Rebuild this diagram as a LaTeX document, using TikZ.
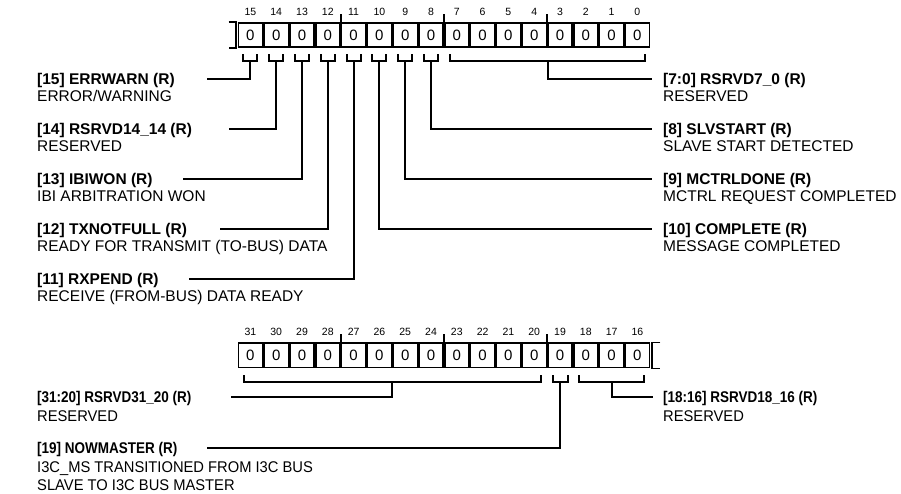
\documentclass[tikz,border=0pt]{standalone}
\usepackage{fontspec}
\setmainfont{Liberation Sans}
\newfontfamily\narrowsans[FakeStretch=0.87]{Liberation Sans}
\newfontfamily\slimsans[FakeStretch=0.95]{Liberation Sans}
\usetikzlibrary{positioning}

\tikzset{
  cellbox/.style={draw, line width=1.6pt, minimum width=24.2pt, minimum height=24.4pt, inner sep=0pt, font=\fontsize{15}{15}\selectfont},
  bitnum/.style={inner sep=0pt, font=\fontsize{10.5}{11}\selectfont},
  brace/.style={line width=2pt},
  lead/.style={line width=2pt},
  fieldname/.style={anchor=west, inner sep=0pt, text height=11pt, text depth=0pt, font=\fontsize{15.5}{17}\selectfont\bfseries},
  fielddesc/.style={anchor=base west, inner sep=0pt, font=\fontsize{15.5}{17}\selectfont},
  narrowname/.style={fieldname, font=\fontsize{15.5}{17}\selectfont\narrowsans\bfseries},
  narrowdesc/.style={fielddesc, font=\fontsize{15.5}{17}\selectfont\slimsans},
}

\begin{document}
\begin{tikzpicture}[x=1pt,y=-1pt]
\fill[white] (0,0) rectangle (901,494);
\useasboundingbox (0,0) rectangle (901,494);

% Register bits 15..0
\foreach \b [count=\i from 0] in {15,14,...,0} {
    \node[cellbox] (top\b) at (250.4+25.8*\i,35) {0};
    \node[bitnum] (ntop\b) at (250.4+25.8*\i,12) {\b};
}
\foreach \b in {12,8,4}
    \draw[line width=1.6pt] (top\b.north east) -- ++(0,-8);
% continued from bit 16
\draw[line width=1.6pt] ([xshift=-9pt]top15.north west) -- ([xshift=-1.8pt]top15.north west)
    -- ([xshift=-1.8pt]top15.south west) -- ([xshift=-9pt]top15.south west);

% Register bits 31..16
\foreach \b [count=\i from 0] in {31,30,...,16} {
    \node[cellbox] (bot\b) at (250.4+25.8*\i,355.3) {0};
    \node[bitnum] (nbot\b) at (250.4+25.8*\i,332) {\b};
}
\foreach \b in {28,24,20}
    \draw[line width=1.6pt] (bot\b.north east) -- ++(0,-8);
% continues to bit 15
\draw[line width=1.6pt] ([xshift=10pt]bot16.north east) -- ([xshift=1.8pt]bot16.north east)
    -- ([xshift=1.8pt]bot16.south east) -- ([xshift=10pt]bot16.south east);

% Brackets under single bits
\foreach \b [count=\i from 0] in {15,14,...,8} {
    \pgfmathsetmacro\cx{250.4+25.8*\i}
    \draw[brace] (\cx-7,54.5) -- (\cx-7,61.5) -- (\cx+7,61.5) -- (\cx+7,54.5);
    \coordinate (s\b) at (\cx,61.5);
}
\draw[brace] (450,54.5) -- (450,61.5) -- (645,61.5) -- (645,54.5);
\coordinate (s7) at (547.5,61.5);

\draw[brace] (244,375) -- (244,381.7) -- (540.6,381.7) -- (540.6,375);
\coordinate (s31) at (392.3,381.7);
\draw[brace] (553,375) -- (553,381.7) -- (567.6,381.7) -- (567.6,375);
\coordinate (s19) at (560.3,381.7);
\draw[brace] (579,375) -- (579,381.7) -- (644,381.7) -- (644,375);
\coordinate (s18) at (611.5,381.7);

% Leader ends
\coordinate (e15) at (207,79);
\coordinate (e14) at (229,129);
\coordinate (e13) at (183,179);
\coordinate (e12) at (220,229);
\coordinate (e11) at (189,279);
\coordinate (e10) at (652,229);
\coordinate (e9)  at (652,179);
\coordinate (e8)  at (652,129);
\coordinate (e7)  at (652,79);
\coordinate (e31) at (231,397);
\coordinate (e19) at (207,448);
\coordinate (e18) at (653,397);

% Field names and descriptions, left side
\node[fieldname] (t15) at (37,79) {[15] ERRWARN (R)};
\node[fielddesc] (d15) at ([yshift=-17pt]t15.base west) {ERROR/WARNING};
\node[fieldname] (t14) at (37,129) {[14] RSRVD14\_14 (R)};
\node[fielddesc] (d14) at ([yshift=-17pt]t14.base west) {RESERVED};
\node[fieldname] (t13) at (37,179) {[13] IBIWON (R)};
\node[fielddesc] (d13) at ([yshift=-17pt]t13.base west) {IBI ARBITRATION WON};
\node[fieldname] (t12) at (37,229) {[12] TXNOTFULL (R)};
\node[fielddesc] (d12) at ([yshift=-17pt]t12.base west) {READY FOR TRANSMIT (TO-BUS) DATA};
\node[fieldname] (t11) at (37,279) {[11] RXPEND (R)};
\node[fielddesc] (d11) at ([yshift=-17pt]t11.base west) {RECEIVE (FROM-BUS) DATA READY};

% right side
\node[fieldname] (t7) at (663,79) {[7:0] RSRVD7\_0 (R)};
\node[fielddesc] (d7) at ([yshift=-17pt]t7.base west) {RESERVED};
\node[fieldname] (t8) at (663,129) {[8] SLVSTART (R)};
\node[fielddesc] (d8) at ([yshift=-17pt]t8.base west) {SLAVE START DETECTED};
\node[fieldname] (t9) at (663,179) {[9] MCTRLDONE (R)};
\node[fielddesc] (d9) at ([yshift=-17pt]t9.base west) {MCTRL REQUEST COMPLETED};
\node[fieldname] (t10) at (663,229) {[10] COMPLETE (R)};
\node[fielddesc] (d10) at ([yshift=-17pt]t10.base west) {MESSAGE COMPLETED};

% upper half fields
\node[narrowname] (t31) at (37,397) {[31:20] RSRVD31\_20 (R)};
\node[narrowdesc] (d31) at ([yshift=-18.5pt]t31.base west) {RESERVED};
\node[narrowname] (t19) at (37,448) {[19] NOWMASTER (R)};
\node[narrowdesc] (d19a) at ([yshift=-18.5pt]t19.base west) {I3C\_MS TRANSITIONED FROM I3C BUS};
\node[narrowdesc] (d19b) at ([yshift=-37pt]t19.base west) {SLAVE TO I3C BUS MASTER};
\node[narrowname] (t18) at (663,397) {[18:16] RSRVD18\_16 (R)};
\node[narrowdesc] (d18) at ([yshift=-18.5pt]t18.base west) {RESERVED};

% Leaders
\foreach \b in {15,14,...,7,31,19,18}
    \draw[lead] (s\b) |- (e\b);
\end{tikzpicture}
\end{document}
